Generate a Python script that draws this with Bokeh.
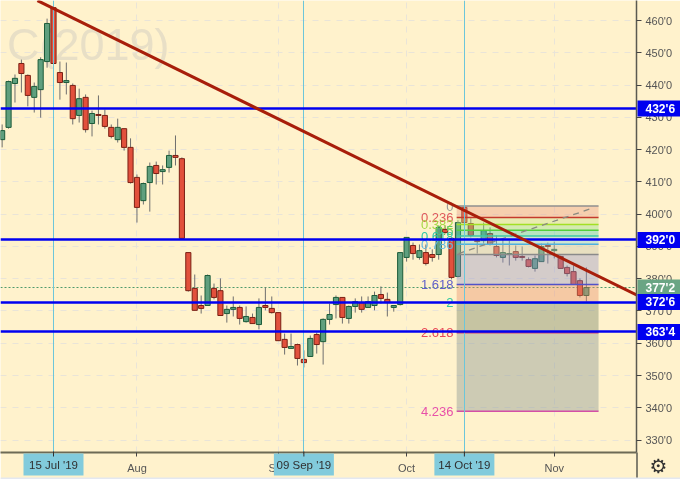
from bokeh.plotting import figure
from bokeh.models import Range1d, FixedTicker, Label, GridBox
from bokeh.core.properties import value
from bokeh.embed import file_html
from bokeh.resources import INLINE

bars = list(range(-8, 84))
opens = [423.1,426.9,440.5,446.7,443.0,436.2,438.6,447.3,464.0,443.9,440.8,439.9,430.6,436.2,428.1,430.9,430.6,426.9,423.1,426.5,420.7,411.4,404.2,409.8,415.1,413.2,414.5,418.2,417.2,
 388.1,377.0,371.7,371.7,377.0,376.3,369.2,370.5,371.1,366.7,368.0,365.8,371.7,370.8,369.5,361.2,358.4,359.6,355.0,355.9,362.7,360.5,367.4,372.0,374.2,367.7,371.4,372.6,371.1,371.7,375.1,373.6,371.1,372.0,386.6,390.3,386.6,388.1,387.5,387.5,395.3,392.5,380.7,402.1,397.1,391.8,391.8,394.0,390.0,386.6,387.5,388.4,386.9,385.9,383.2,385.3,390.3,388.7,386.9,383.5,382.2,379.4,374.8]
closes = [425.9,441.1,442.1,443.6,436.8,439.6,447.9,459.1,446.7,440.8,441.4,429.6,435.8,426.2,431.2,430.6,427.2,424.1,426.9,420.7,409.8,402.1,409.5,414.8,412.6,413.8,418.2,417.6,392.5,
 376.3,370.2,370.8,381.0,374.2,368.6,370.5,371.1,367.7,368.3,366.1,371.1,371.1,369.5,360.8,358.7,359.0,355.3,354.0,361.5,359.6,367.4,368.9,374.2,368.0,371.4,372.9,370.5,372.9,374.8,373.9,372.6,371.7,388.1,392.8,387.8,388.7,384.7,386.6,395.9,394.3,380.4,397.4,397.4,393.4,391.5,394.9,390.6,387.2,388.1,387.8,386.6,386.6,383.8,386.2,390.0,390.0,389.1,383.2,381.6,378.2,374.8,377.25]
highs = [427.8,441.4,443.3,447.9,443.3,440.8,448.6,460.6,465.3,447.3,447.0,440.5,438.9,437.1,432.1,436.8,432.4,427.8,429.6,426.5,423.5,412.3,409.8,416.0,416.3,415.1,419.7,424.4,417.6,
 388.1,381.3,374.8,381.3,378.5,380.1,371.7,374.5,371.7,371.4,369.2,373.9,377.3,374.5,369.5,363.0,363.0,359.9,357.8,362.4,363.3,367.7,372.3,374.8,374.2,371.7,373.9,374.5,374.5,376.0,377.6,375.7,371.7,388.1,392.8,391.2,390.6,390.6,389.1,396.5,396.5,392.8,398.1,402.4,398.7,392.5,397.4,395.9,393.4,392.5,391.8,390.3,390.0,386.6,387.2,390.9,391.2,391.5,387.2,384.1,384.1,380.1,383.5]
lows = [420.7,426.5,434.6,437.7,433.4,431.5,429.9,445.4,445.8,435.5,437.1,427.8,428.4,425.3,424.1,427.8,426.5,423.5,422.2,419.7,409.5,397.4,403.0,400.8,409.2,409.2,412.9,415.1,392.2,
 376.0,370.2,369.2,371.7,373.6,368.6,366.4,368.3,365.8,366.4,366.1,364.3,370.2,369.2,360.8,356.5,358.4,353.1,352.5,355.9,356.8,353.4,365.8,367.7,366.1,366.1,369.5,369.5,371.1,370.2,372.3,368.3,369.8,371.7,385.3,385.9,385.9,384.1,385.3,385.9,394.0,379.8,380.4,396.5,392.8,387.8,390.9,390.3,386.6,385.0,384.1,385.6,385.6,383.5,382.2,385.3,384.7,386.3,383.2,380.7,378.2,374.2,372.9]

blue_levels = [432.75, 392.0, 372.75, 363.5]
blue_labels = ["432'6", "392'0", "372'6", "363'4"]
last_price = 377.25
last_label = "377'2"

cursor_bars = [0, 39, 64]
cursor_labels = ["15 Jul '19", "09 Sep '19", "14 Oct '19"]
month_bars = [13, 35, 55, 78]
month_labels = ["Aug", "Sep", "Oct", "Nov"]

price_ticks = [330, 340, 350, 360, 370, 380, 390, 400, 410, 420, 430, 440, 450, 460]

trend_x = [-2.5, 90.97]
trend_y = [466.2, 374.8]
dash_x = [63.1, 84.0]
dash_y = [387.8, 401.9]

fib_levels = [0, 0.236, 0.382, 0.5, 0.618, 0.786, 1, 1.618, 2, 2.618, 4.236]
fib_line_colors = ["#8f8f8f", "#c53a2c", "#a3e024", "#52d03c", "#3ec8a6", "#4fb0de", "#8a8a8a", "#5252c8", "#2fd0a0", "#d04070", "#d44fa6"]
fib_band_colors = ["#e89b81", "#c8e086", "#93de86", "#4dcfae", "#87d2d6", "#c5c2ae", "#9393c7", "#e68b6a", "#707f65", "#829190"]
fib_text = ["0", "0.236", "0.382", "0.5", "0.618", "0.786", "", "1.618", "2", "2.618", "4.236"]
fib_text_colors = ["#9a9a9a", "#e05a5a", "#a8d848", "#62c862", "#30c8a8", "#60b8e0", "#8a8a8a", "#6060c8", "#30c8a0", "#e84858", "#e850a8"]
fib_top = 402.5
fib_span = 15.0
fib_left = 62.8
fib_right = 84.9

BG = "#fff2cc"
GRID = "#e9e4d8"
PX = 6.42            # pixels per bar
YK = 0.3099          # price per pixel
x_at = lambda px: (px - 53) / PX
y_at = lambda py: 466.22 - YK * py
FIXED = {"position": "fixed", "left": "0", "top": "0"}

p = figure(width=680, height=479, output_backend="svg", toolbar_location=None,
           x_range=Range1d(x_at(0), x_at(636)), y_range=Range1d(y_at(452), y_at(0)),
           y_axis_location="right", min_border_left=0, min_border_top=0,
           min_border_right=44, min_border_bottom=27,
           background_fill_color=BG, border_fill_color=BG, outline_line_color=None)
p.styles = FIXED

# axes
ya = p.yaxis[0]
ya.ticker = FixedTicker(ticks=price_ticks)
ya.major_label_overrides = {t: f"{t}'0" for t in price_ticks}
ya.major_label_text_font = "Liberation Sans"
ya.major_label_text_font_size = "11px"
ya.major_label_text_color = "#555555"
ya.axis_line_color = "#5a5a50"
ya.axis_line_width = 1.5
ya.major_tick_line_color = "#444444"
ya.major_tick_in = 0
ya.major_tick_out = 5
ya.minor_tick_line_color = None
ya.major_label_standoff = 4

xa = p.xaxis[0]
xa.ticker = FixedTicker(ticks=sorted(month_bars + cursor_bars))
ov = {b: l for b, l in zip(month_bars, month_labels)}
ov.update({b: " " for b in cursor_bars})
xa.major_label_overrides = ov
xa.major_label_text_font = "Liberation Sans"
xa.major_label_text_font_size = "11px"
xa.major_label_text_color = "#555555"
xa.axis_line_color = "#6d6a55"
xa.axis_line_width = 2
xa.major_tick_line_color = "#444444"
xa.major_tick_in = 0
xa.major_tick_out = 4
xa.minor_tick_line_color = None
xa.major_label_standoff = 5

p.xgrid.ticker = FixedTicker(ticks=month_bars)
p.ygrid.ticker = FixedTicker(ticks=price_ticks)
for g in (p.xgrid[0], p.ygrid[0]):
    g.grid_line_color = GRID
    g.grid_line_dash = "6 6"
    g.grid_line_width = 1

# watermark
p.add_layout(Label(x=x_at(169), y=y_at(44), text="C(2019)", text_align="right", text_baseline="middle",
                   text_font="Liberation Sans", text_font_size="45px", text_color="#e8dfc6",
                   level="underlay"))

# last-price dotted line
p.hspan(y=[last_price], line_color="#4f9a6c", line_width=1, line_dash="2 2")

# candles
up = [c >= o_ for o_, c in zip(opens, closes)]
p.segment(bars, highs, bars, lows, line_color="#6e6e6e", line_width=1)
tops = [max(o_, c) for o_, c in zip(opens, closes)]
bots = [min(o_, c) for o_, c in zip(opens, closes)]
fills = ["#5f9f7e" if u else "#e2503c" for u in up]
edges = ["#1c5c3a" if u else "#7a2014" for u in up]
p.vbar(x=bars, top=tops, bottom=bots, width=0.8, fill_color=fills, line_color=edges, line_width=1)

# fib bands and lines
fib_prices = [fib_top - lv * fib_span for lv in fib_levels]
p.quad(left=fib_left, right=fib_right, top=fib_prices[:-1], bottom=fib_prices[1:],
       fill_color=fib_band_colors, fill_alpha=0.4, line_color=None)
p.segment(fib_left, fib_prices, fib_right, fib_prices, line_color=fib_line_colors, line_width=1.5)
p.text(x=x_at(453), y=fib_prices, text=fib_text, text_color=fib_text_colors, text_align="right",
       text_baseline="middle", text_font=value("Liberation Sans"), text_font_size="13px")
p.line(dash_x, dash_y, line_color="#8a8a80", line_width=1.3, line_dash="6 5")

# cursors and lines
p.vspan(x=cursor_bars, line_color="#6cc6da", line_width=1)
p.hspan(y=blue_levels, line_color="#0000f0", line_width=2.6)
p.line(trend_x, trend_y, line_color="#a81e0a", line_width=3)

# transparent overlay spanning the whole window: tags that sit over the axes
o = figure(width=680, height=479, output_backend="svg", toolbar_location=None,
           x_range=Range1d(x_at(0), x_at(680)), y_range=Range1d(y_at(479), y_at(0)),
           x_axis_location=None, y_axis_location=None,
           min_border=0, min_border_left=0, min_border_right=0, min_border_top=0, min_border_bottom=0,
           background_fill_color=None, border_fill_color=None, outline_line_color=None)
o.grid.visible = False
o.styles = FIXED

tag_prices = [last_price] + blue_levels
tag_texts = [last_label] + blue_labels
tag_colors = ["#6aa584"] + ["#0000f0"] * len(blue_levels)
half = 8 * YK
o.quad(left=x_at(637), right=x_at(680), top=[v + half for v in tag_prices], bottom=[v - half for v in tag_prices],
       fill_color=tag_colors, line_color=None)
o.text(x=x_at(645), y=tag_prices, text=tag_texts, text_color="#ffffff", text_font=value("Liberation Sans"),
       text_font_style="bold", text_font_size="12px", text_baseline="middle")

half_w = 30 / PX
o.quad(left=[b - half_w for b in cursor_bars], right=[b + half_w for b in cursor_bars],
       top=y_at(453), bottom=y_at(475), fill_color="#82cbdc", line_color=None)
o.segment(cursor_bars, y_at(451), cursor_bars, y_at(456), line_color="#303030", line_width=1)
o.text(x=cursor_bars, y=y_at(464), text=cursor_labels, text_color="#303030", text_font=value("Liberation Sans"),
       text_font_size="11.5px", text_align="center", text_baseline="middle")

o.text(x=[-11], y=y_at(467), text=["Jul"], text_color="#555555", text_font=value("Liberation Sans"),
       text_font_size="11px", text_align="center", text_baseline="middle")
o.text(x=x_at(658), y=y_at(465), text=["\u2699"], text_color="#303030", text_font=value("DejaVu Sans"),
       text_font_size="20px", text_align="center", text_baseline="middle")
o.segment(x_at(636.5), y_at(452), x_at(636.5), y_at(479), line_color="#5a5a50", line_width=1.5)
o.quad(left=x_at(0), right=x_at(680), top=y_at(477), bottom=y_at(479), fill_color="#e4e8f0", line_color=None)

layout = GridBox(children=[(p, 0, 0), (o, 1, 1)])
open("out.html", "w").write(file_html(layout, INLINE))
